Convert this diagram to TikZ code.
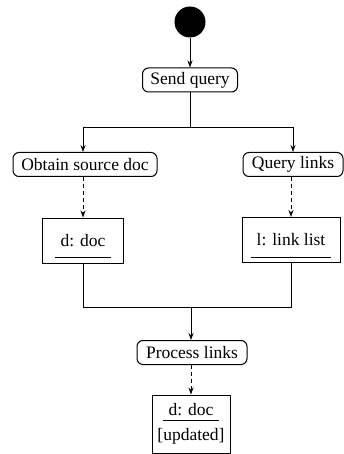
\documentclass[tikz,border=0pt]{standalone}
\usepackage{fontspec}
\setmainfont{Liberation Serif}
\usetikzlibrary{arrows.meta}
\newcommand\objul[2][11pt]{\setbox0=\hbox{#2}\rlap{\smash{\kern-6pt\raisebox{-#1}{\rule{\dimexpr\wd0+12pt\relax}{0.8pt}}}}\box0}
\tikzset{
  act/.style={draw, line width=1pt, rounded corners=6pt, minimum height=24pt, inner sep=0pt, font=\fontsize{17.5}{20}\selectfont},
  obj/.style={draw, line width=1pt, inner sep=0pt, font=\fontsize{17.5}{20}\selectfont},
  arr/.style={line width=0.9pt, -{Stealth[length=7pt,width=5pt]}},
  flow/.style={line width=0.9pt},
  darr/.style={line width=0.9pt, dash pattern=on 4pt off 3pt, -{Stealth[length=7pt,width=5pt]}},
  startdot/.style={circle, fill=black, minimum size=31pt, inner sep=0pt}
}
\begin{document}
\begin{tikzpicture}[x=1pt,y=-1pt]
\useasboundingbox (0,0) rectangle (344,454);
\node[startdot] (start) at (190,22) {};
\node[act, minimum width=95pt] (send) at (190,80) {Send query};
\node[act, minimum width=144pt] (obtain) at (85,164.5) {Obtain source doc};
\node[act, minimum width=100pt] (query) at (293,164.5) {Query links};
\node[obj, minimum width=81pt, minimum height=45pt] (ddoc) at (83,240.5) {\objul[11pt]{d: doc}};
\node[obj, minimum width=98pt, minimum height=45pt] (llist) at (291,240) {\objul[12pt]{l: link list}};
\node[act, minimum width=110pt] (proc) at (192,352.5) {Process links};
\node[obj, minimum width=78pt, minimum height=58pt, align=center, font=\fontsize{17.5}{25}\selectfont] (upd) at (191,424) {\objul[5pt]{d: doc}\\{[}updated{]}};
\coordinate (fL) at (83,127);
\coordinate (fR) at (293,127);
\coordinate (jC) at (191,307);
\draw[arr] (start.south) -- (send.north);
\draw[arr] (send.south) |- (fL) -- (fL |- obtain.north);
\draw[arr] (send.south) |- (fR) -- (fR |- query.north);
\draw[darr] (ddoc.north |- obtain.south) -- (ddoc.north);
\draw[darr] (llist.north |- query.south) -- (llist.north);
\draw[flow] (ddoc.south) |- (jC);
\draw[flow] (llist.south) |- (jC);
\draw[arr] (jC) -- (jC |- proc.north);
\draw[darr] (upd.north |- proc.south) -- (upd.north);
\end{tikzpicture}
\end{document}
